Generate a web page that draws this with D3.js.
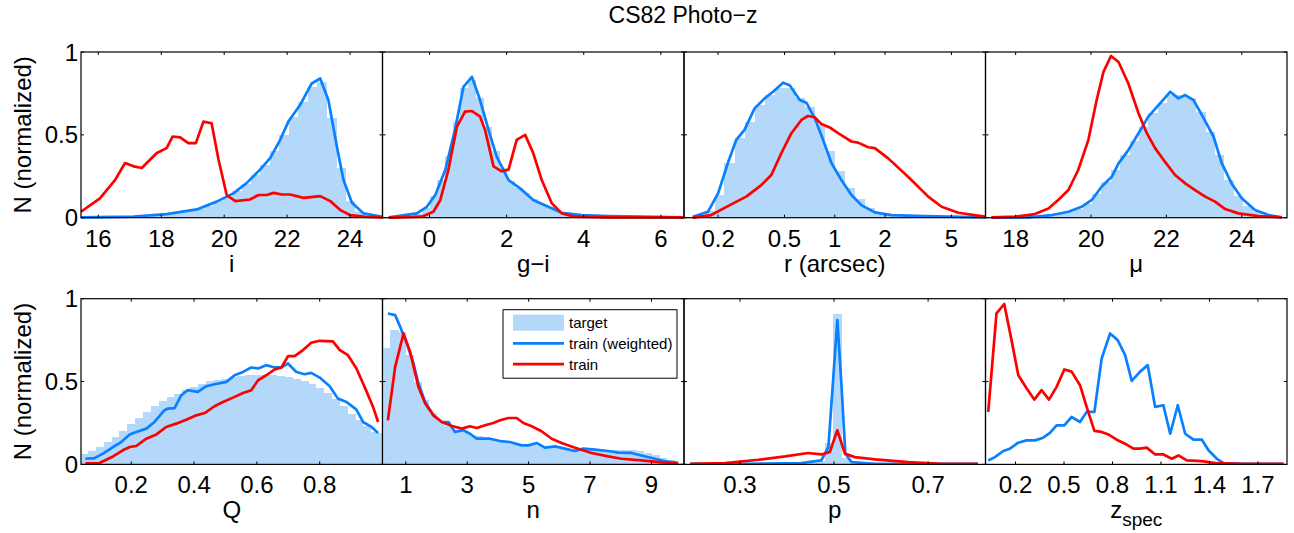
<!DOCTYPE html>
<html>
<head>
<meta charset="utf-8">
<script src="https://cdn.jsdelivr.net/npm/d3@7"></script>
<style>
  body { margin: 0; background: #fff; }
</style>
</head>
<body>
<script>
// values, [bin centre or x, normalized N]
const iTarget = [[15.6,0.002],[15.9,0.002],[16.2,0.003],[16.5,0.004],[16.8,0.005],[17.1,0.006],[17.4,0.009],[17.7,0.013],[18.0,0.018],[18.3,0.025],[18.6,0.033],[18.9,0.042],[19.2,0.053],[19.5,0.072],[19.8,0.1],[20.1,0.125],[20.4,0.16],[20.7,0.205],[21.0,0.26],[21.3,0.32],[21.6,0.4],[21.9,0.5],[22.2,0.61],[22.5,0.7],[22.8,0.79],[23.1,0.82],[23.4,0.6],[23.7,0.3],[24.0,0.1],[24.3,0.035],[24.6,0.012],[24.9,0.004]]
const iWeighted = [[15.45,0.002],[17.12,0.006],[18.17,0.022],[19.13,0.05],[19.76,0.097],[20.29,0.147],[20.72,0.21],[21.14,0.29],[21.46,0.36],[21.78,0.47],[22.04,0.58],[22.41,0.68],[22.78,0.81],[23.05,0.84],[23.31,0.71],[23.58,0.43],[23.79,0.227],[24.06,0.09],[24.43,0.026],[25.03,0.006]]
const iTrain = [[15.45,0.036],[16.05,0.117],[16.53,0.227],[16.85,0.33],[17.12,0.31],[17.38,0.3],[17.86,0.39],[18.17,0.42],[18.36,0.49],[18.6,0.485],[18.86,0.45],[19.1,0.45],[19.34,0.58],[19.6,0.57],[19.82,0.35],[20.08,0.137],[20.35,0.1],[20.82,0.11],[21.09,0.137],[21.35,0.137],[21.57,0.15],[21.83,0.14],[22.1,0.14],[22.52,0.12],[23.05,0.13],[23.37,0.1],[23.69,0.046],[24.0,0.016],[24.43,0.006],[25.03,0.002]]

const giTarget = [[-1.1,0.001],[-0.9,0.002],[-0.7,0.004],[-0.5,0.01],[-0.3,0.025],[-0.1,0.06],[0.1,0.13],[0.3,0.23],[0.5,0.37],[0.7,0.58],[0.9,0.78],[1.1,0.83],[1.3,0.72],[1.5,0.55],[1.7,0.4],[1.9,0.3],[2.1,0.22],[2.3,0.18],[2.5,0.15],[2.7,0.11],[2.9,0.085],[3.1,0.063],[3.3,0.04],[3.5,0.027],[3.7,0.018],[3.9,0.013],[4.1,0.01],[4.3,0.008],[4.5,0.007],[4.7,0.006],[4.9,0.005],[5.1,0.004],[5.3,0.004],[5.5,0.003],[5.7,0.003],[5.9,0.002],[6.1,0.002],[6.3,0.002],[6.5,0.002]]
const giWeighted = [[-1.06,0.002],[-0.33,0.026],[-0.07,0.066],[0.15,0.137],[0.41,0.29],[0.66,0.53],[0.88,0.79],[1.1,0.85],[1.31,0.71],[1.53,0.53],[1.74,0.37],[2.05,0.227],[2.35,0.177],[2.69,0.107],[3.08,0.066],[3.43,0.03],[3.95,0.016],[4.64,0.01],[5.5,0.006],[6.6,0.002]]
const giTrain = [[-1.06,0],[-0.2,0.006],[0.1,0.036],[0.28,0.107],[0.49,0.29],[0.71,0.55],[0.92,0.64],[1.1,0.644],[1.31,0.61],[1.44,0.53],[1.66,0.31],[1.87,0.28],[2.05,0.29],[2.26,0.47],[2.48,0.5],[2.69,0.39],[2.91,0.227],[3.17,0.087],[3.43,0.026],[3.77,0.006],[4.64,0.002],[6.6,0.002]]

const rTarget = [[0.135,0.004],[0.155,0.012],[0.178,0.04],[0.204,0.14],[0.234,0.33],[0.269,0.48],[0.309,0.58],[0.355,0.68],[0.407,0.74],[0.468,0.78],[0.537,0.78],[0.617,0.72],[0.708,0.67],[0.813,0.56],[0.933,0.4],[1.072,0.28],[1.23,0.18],[1.413,0.11],[1.622,0.06],[1.862,0.03],[2.138,0.018],[2.455,0.012],[2.818,0.009],[3.236,0.007],[3.715,0.005],[4.266,0.004],[4.898,0.003],[5.623,0.002],[6.457,0.002],[7.413,0.001]]
const rWeighted = [[0.141,0.006],[0.174,0.036],[0.2,0.147],[0.229,0.33],[0.257,0.47],[0.288,0.53],[0.331,0.66],[0.38,0.72],[0.427,0.76],[0.49,0.815],[0.537,0.8],[0.617,0.71],[0.676,0.694],[0.759,0.6],[0.851,0.47],[0.955,0.33],[1.096,0.227],[1.259,0.137],[1.445,0.076],[1.738,0.032],[2.19,0.016],[3.47,0.01],[7.94,0.002]]
const rTrain = [[0.141,0],[0.182,0.016],[0.229,0.07],[0.295,0.127],[0.363,0.197],[0.417,0.258],[0.479,0.39],[0.55,0.51],[0.631,0.59],[0.692,0.614],[0.759,0.606],[0.832,0.565],[0.933,0.545],[1.047,0.51],[1.259,0.46],[1.38,0.453],[1.585,0.425],[1.738,0.42],[2.09,0.358],[2.75,0.247],[3.63,0.127],[4.37,0.066],[5.5,0.03],[7.94,0.006]]

const muTarget = [[17.4,0],[17.65,0.001],[17.9,0.002],[18.15,0.003],[18.4,0.005],[18.65,0.009],[18.9,0.014],[19.15,0.022],[19.4,0.034],[19.65,0.055],[19.9,0.085],[20.15,0.145],[20.4,0.215],[20.65,0.29],[20.9,0.38],[21.15,0.46],[21.4,0.55],[21.65,0.63],[21.9,0.69],[22.15,0.74],[22.4,0.74],[22.65,0.72],[22.9,0.64],[23.15,0.52],[23.4,0.38],[23.65,0.23],[23.9,0.13],[24.15,0.07],[24.4,0.035],[24.65,0.015],[24.9,0.006]]
const muWeighted = [[17.36,0],[18.34,0.002],[18.96,0.016],[19.4,0.036],[19.75,0.066],[20.02,0.107],[20.28,0.187],[20.55,0.247],[20.73,0.328],[20.99,0.408],[21.26,0.51],[21.52,0.61],[21.79,0.68],[22.1,0.76],[22.32,0.72],[22.5,0.74],[22.72,0.71],[22.94,0.62],[23.25,0.49],[23.47,0.328],[23.73,0.207],[24.0,0.117],[24.35,0.046],[24.71,0.016],[25.06,0.002]]
const muTrain = [[17.36,0.002],[18.0,0.006],[18.51,0.022],[18.87,0.056],[19.13,0.107],[19.4,0.167],[19.66,0.288],[19.93,0.47],[20.15,0.71],[20.33,0.88],[20.53,0.976],[20.73,0.94],[20.99,0.81],[21.26,0.63],[21.48,0.51],[21.7,0.42],[21.96,0.338],[22.23,0.258],[22.5,0.207],[22.76,0.167],[23.03,0.127],[23.29,0.097],[23.56,0.052],[23.91,0.026],[24.44,0.01],[25.06,0.002]]

const qTarget = [[0.05,0.06],[0.075,0.08],[0.1,0.105],[0.125,0.135],[0.15,0.165],[0.175,0.2],[0.2,0.245],[0.225,0.28],[0.25,0.315],[0.275,0.35],[0.3,0.383],[0.325,0.407],[0.35,0.427],[0.375,0.45],[0.4,0.47],[0.425,0.488],[0.45,0.502],[0.475,0.512],[0.5,0.518],[0.525,0.528],[0.55,0.534],[0.575,0.54],[0.6,0.542],[0.625,0.542],[0.65,0.54],[0.675,0.534],[0.7,0.526],[0.725,0.516],[0.75,0.502],[0.775,0.484],[0.8,0.46],[0.825,0.43],[0.85,0.395],[0.875,0.35],[0.9,0.306],[0.925,0.266],[0.95,0.23],[0.975,0.195],[1.0,0.19]]
const qWeighted = [[0.054,0.034],[0.083,0.038],[0.11,0.065],[0.142,0.105],[0.168,0.135],[0.195,0.18],[0.216,0.196],[0.248,0.216],[0.274,0.256],[0.306,0.327],[0.317,0.337],[0.338,0.34],[0.359,0.417],[0.38,0.448],[0.412,0.438],[0.439,0.472],[0.465,0.484],[0.503,0.498],[0.529,0.538],[0.556,0.558],[0.582,0.585],[0.604,0.579],[0.63,0.599],[0.657,0.585],[0.678,0.585],[0.699,0.609],[0.726,0.558],[0.752,0.544],[0.773,0.552],[0.8,0.524],[0.832,0.472],[0.858,0.397],[0.885,0.377],[0.917,0.331],[0.938,0.256],[0.965,0.226],[0.986,0.19]]
const qTrain = [[0.054,0.006],[0.099,0.008],[0.142,0.048],[0.173,0.085],[0.195,0.105],[0.216,0.111],[0.248,0.155],[0.28,0.181],[0.311,0.226],[0.343,0.246],[0.375,0.27],[0.407,0.296],[0.434,0.31],[0.465,0.351],[0.492,0.377],[0.524,0.403],[0.556,0.431],[0.582,0.448],[0.604,0.508],[0.63,0.538],[0.657,0.573],[0.678,0.585],[0.699,0.653],[0.72,0.653],[0.747,0.69],[0.773,0.734],[0.8,0.746],[0.842,0.742],[0.864,0.69],[0.89,0.659],[0.917,0.579],[0.943,0.468],[0.97,0.347],[0.986,0.256]]

const nTarget = [[0.375,0.7],[0.625,0.81],[0.875,0.8],[1.125,0.66],[1.375,0.5],[1.625,0.39],[1.875,0.31],[2.125,0.26],[2.375,0.23],[2.625,0.21],[2.875,0.195],[3.125,0.18],[3.375,0.17],[3.625,0.16],[3.875,0.15],[4.125,0.14],[4.375,0.135],[4.625,0.125],[4.875,0.12],[5.125,0.115],[5.375,0.11],[5.625,0.105],[5.875,0.1],[6.125,0.097],[6.375,0.093],[6.625,0.09],[6.875,0.088],[7.125,0.086],[7.375,0.085],[7.625,0.085],[7.875,0.085],[8.125,0.085],[8.375,0.085],[8.625,0.08],[8.875,0.07],[9.125,0.055],[9.375,0.04],[9.625,0.025],[9.875,0.01]]
const nWeighted = [[0.415,0.911],[0.653,0.901],[0.816,0.83],[1.03,0.73],[1.25,0.609],[1.41,0.488],[1.63,0.377],[1.9,0.296],[2.17,0.256],[2.39,0.256],[2.6,0.196],[2.88,0.206],[3.09,0.185],[3.31,0.155],[3.74,0.155],[4.07,0.141],[4.39,0.135],[4.77,0.115],[4.99,0.115],[5.26,0.129],[5.53,0.101],[5.86,0.109],[6.18,0.095],[6.51,0.081],[6.78,0.095],[7.16,0.089],[7.59,0.081],[7.92,0.071],[8.35,0.069],[8.67,0.054],[9.11,0.034],[9.43,0.02],[9.87,0.008]]
const nTrain = [[0.415,0.266],[0.653,0.589],[0.924,0.79],[1.14,0.679],[1.41,0.468],[1.63,0.367],[1.9,0.296],[2.17,0.256],[2.5,0.232],[2.82,0.216],[3.09,0.23],[3.31,0.22],[3.58,0.236],[3.85,0.25],[4.07,0.266],[4.34,0.28],[4.61,0.28],[4.83,0.25],[5.1,0.23],[5.42,0.2],[5.75,0.155],[6.07,0.129],[6.51,0.101],[7.05,0.069],[7.59,0.048],[8.02,0.034],[8.67,0.024],[9.33,0.012],[9.87,0.008]]

const pTarget = [[0.417,0.003],[0.435,0.004],[0.453,0.006],[0.471,0.02],[0.489,0.13],[0.507,0.91],[0.525,0.04],[0.543,0.01],[0.561,0.005],[0.579,0.003]]
const pWeighted = [[0.194,0.004],[0.3,0.004],[0.43,0.008],[0.473,0.024],[0.488,0.105],[0.498,0.508],[0.507,0.871],[0.516,0.468],[0.524,0.065],[0.537,0.014],[0.587,0.004],[0.806,0.004]]
const pTrain = [[0.194,0.004],[0.268,0.008],[0.339,0.028],[0.396,0.048],[0.445,0.069],[0.473,0.06],[0.491,0.075],[0.507,0.206],[0.523,0.065],[0.544,0.044],[0.587,0.03],[0.658,0.014],[0.728,0.004],[0.806,0.004]]

const zTarget = []
const zWeighted = [[0.031,0.024],[0.072,0.044],[0.124,0.081],[0.165,0.095],[0.217,0.131],[0.268,0.145],[0.32,0.145],[0.371,0.161],[0.413,0.19],[0.454,0.236],[0.502,0.236],[0.547,0.286],[0.599,0.256],[0.64,0.317],[0.688,0.317],[0.733,0.639],[0.785,0.79],[0.832,0.75],[0.878,0.659],[0.919,0.504],[0.971,0.56],[1.018,0.599],[1.064,0.347],[1.115,0.357],[1.157,0.185],[1.204,0.357],[1.25,0.185],[1.301,0.149],[1.353,0.149],[1.394,0.085],[1.446,0.034],[1.487,0.008],[1.6,0.004],[1.859,0.004]]
const zTrain = [[0.031,0.317],[0.082,0.911],[0.13,0.968],[0.175,0.75],[0.217,0.538],[0.268,0.46],[0.316,0.391],[0.361,0.448],[0.407,0.391],[0.454,0.468],[0.502,0.573],[0.547,0.56],[0.599,0.478],[0.64,0.347],[0.688,0.202],[0.733,0.196],[0.774,0.181],[0.826,0.149],[0.878,0.125],[0.929,0.095],[0.971,0.095],[1.012,0.101],[1.064,0.06],[1.115,0.06],[1.167,0.034],[1.208,0.054],[1.26,0.024],[1.353,0.02],[1.436,0.008],[1.6,0.004],[1.859,0.004]]

const yTicks = [0, 0.5, 1]
const seriesNames = ['target', 'train (weighted)', 'train']

const panels = [
  {label: 'i', domain: [15.45, 25.03], ticks: [16, 18, 20, 22, 24], bin: 0.3, target: iTarget, weighted: iWeighted, train: iTrain},
  {label: 'g−i', domain: [-1.22, 6.6], ticks: [0, 2, 4, 6], bin: 0.2, target: giTarget, weighted: giWeighted, train: giTrain},
  {label: 'r (arcsec)', domain: [0.125, 8], ticks: [0.2, 0.5, 1, 2, 5], log: true, bin: 0.06, target: rTarget, weighted: rWeighted, train: rTrain},
  {label: 'μ', domain: [17.2, 25.2], ticks: [18, 20, 22, 24], bin: 0.25, target: muTarget, weighted: muWeighted, train: muTrain},
  {label: 'Q', domain: [0.04, 1.0], ticks: [0.2, 0.4, 0.6, 0.8], bin: 0.025, target: qTarget, weighted: qWeighted, train: qTrain},
  {label: 'n', domain: [0.24, 10.06], ticks: [1, 3, 5, 7, 9], bin: 0.25, target: nTarget, weighted: nWeighted, train: nTrain, legend: true},
  {label: 'p', domain: [0.181, 0.822], ticks: [0.3, 0.5, 0.7], bin: 0.018, target: pTarget, weighted: pWeighted, train: pTrain},
  {label: 'z', sub: 'spec', domain: [0.014, 1.88], ticks: [0.2, 0.5, 0.8, 1.1, 1.4, 1.7], bin: 0.05, target: zTarget, weighted: zWeighted, train: zTrain}
]

const colors = {target: '#b4d8fa', weighted: '#0a80ff', train: '#ff0000'}
const left0 = 81, pw = 301.5, ph = 165.7
const rowTop = [52, 298.7]

const svg = d3.select('body').append('svg')
  .attr('width', 1294).attr('height', 533)
  .style('font-family', '"Liberation Sans", Arial, Helvetica, sans-serif')

svg.append('text')
  .attr('x', 683).attr('y', 22.5)
  .attr('text-anchor', 'middle')
  .attr('font-size', 23)
  .text('CS82 Photo−z')

const yScale = d3.scaleLinear().domain([0, 1]).range([ph, 0])

panels.forEach((p, idx) => {
  const col = idx % 4, row = Math.floor(idx / 4)
  const x0 = left0 + col * pw, y0 = rowTop[row]
  const xScale = (p.log ? d3.scaleLog() : d3.scaleLinear()).domain(p.domain).range([0, pw])

  const g = svg.append('g').attr('transform', `translate(${x0},${y0})`)

  const clipId = 'clip' + idx
  g.append('clipPath').attr('id', clipId)
    .append('rect').attr('width', pw).attr('height', ph)

  // target histogram
  const edge = (c, s) => p.log ? c * Math.pow(10, s * p.bin / 2) : c + s * p.bin / 2
  g.append('g').attr('clip-path', `url(#${clipId})`)
    .selectAll('rect').data(p.target).join('rect')
    .attr('x', d => xScale(edge(d[0], -1)))
    .attr('width', d => xScale(edge(d[0], 1)) - xScale(edge(d[0], -1)) + 0.6)
    .attr('y', d => yScale(d[1]))
    .attr('height', d => ph - yScale(d[1]))
    .attr('fill', colors.target)
    .attr('shape-rendering', 'crispEdges')

  const line = d3.line().x(d => xScale(d[0])).y(d => yScale(d[1]))
  g.append('path').datum(p.weighted)
    .attr('d', line).attr('fill', 'none')
    .attr('stroke', colors.weighted).attr('stroke-width', 2.7)
    .attr('stroke-linejoin', 'round')
  g.append('path').datum(p.train)
    .attr('d', line).attr('fill', 'none')
    .attr('stroke', colors.train).attr('stroke-width', 2.7)
    .attr('stroke-linejoin', 'round')

  // box
  g.append('rect').attr('width', pw).attr('height', ph)
    .attr('fill', 'none').attr('stroke', '#000').attr('stroke-width', 1.2)

  // x ticks (inside, top and bottom)
  const tk = 3
  g.selectAll('.xt').data(p.ticks).join('path').attr('class', 'xt')
    .attr('d', d => `M${xScale(d)},${ph}v${-tk}M${xScale(d)},0v${tk}`)
    .attr('stroke', '#000').attr('stroke-width', 1)
  g.selectAll('.xl').data(p.ticks).join('text').attr('class', 'xl')
    .attr('x', d => xScale(d)).attr('y', ph + 29)
    .attr('text-anchor', 'middle').attr('font-size', 24)
    .text(d => String(d))

  // y ticks (inside, left and right)
  g.selectAll('.yt').data(yTicks).join('path').attr('class', 'yt')
    .attr('d', d => `M0,${yScale(d)}h${tk}M${pw},${yScale(d)}h${-tk}`)
    .attr('stroke', '#000').attr('stroke-width', 1)
  if (col === 0) {
    g.selectAll('.yl').data(yTicks).join('text').attr('class', 'yl')
      .attr('x', -3).attr('y', d => yScale(d) + 8.5)
      .attr('text-anchor', 'end').attr('font-size', 24)
      .text(d => String(d))
    g.append('text')
      .attr('transform', `translate(-50,${ph / 2}) rotate(-90)`)
      .attr('text-anchor', 'middle').attr('font-size', 24)
      .text('N (normalized)')
  }

  // axis label
  const xl = g.append('text')
    .attr('x', pw / 2).attr('y', ph + 54)
    .attr('text-anchor', 'middle').attr('font-size', 24)
    .text(p.label)
  if (p.sub) {
    xl.append('tspan').attr('font-size', 19).attr('dy', 8).text(p.sub)
  }

  if (p.legend) {
    const lg = g.append('g').attr('transform', 'translate(120.5,11)')
    lg.append('rect').attr('width', 174).attr('height', 68.5)
      .attr('fill', '#fff').attr('stroke', '#000').attr('stroke-width', 1)
    const rows = lg.selectAll('g').data(seriesNames).join('g')
      .attr('transform', (d, i) => `translate(0,${13 + i * 20.7})`)
    rows.filter((d, i) => i === 0).append('rect')
      .attr('x', 10).attr('y', -8).attr('width', 51).attr('height', 16)
      .attr('fill', colors.target)
    rows.filter((d, i) => i > 0).append('line')
      .attr('x1', 10).attr('x2', 61)
      .attr('stroke', (d, i) => i === 0 ? colors.weighted : colors.train)
      .attr('stroke-width', 2.7)
    rows.append('text')
      .attr('x', 66).attr('y', 5.5)
      .attr('font-size', 15)
      .text(d => d)
  }
})
</script>
</body>
</html>
